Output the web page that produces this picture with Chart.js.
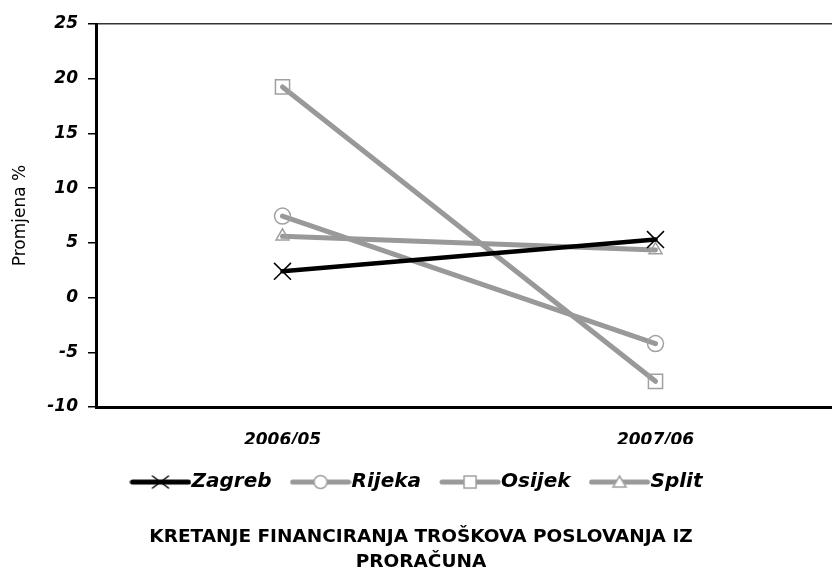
<!DOCTYPE html>
<html>
<head>
<meta charset="utf-8">
<script src="https://cdn.jsdelivr.net/npm/chart.js@4"></script>
<style>
html, body { margin: 0; padding: 0; background: #fff; overflow: hidden; }
#wrap { width: 842px; height: 575px; }
</style>
</head>
<body>
<div id="wrap"><canvas id="c" width="842" height="575"></canvas></div>
<script>
// data
const years = ['2006/05', '2007/06'];
const zagreb = [2.4, 5.3];
const rijeka = [7.45, -4.2];
const osijek = [19.25, -7.65];
const split = [5.6, 4.35];
const yTicks = [-10, -5, 0, 5, 10, 15, 20, 25];

const GREY = '#999999';
const MARK = '#a0a0a0';
const FONT = 'DejaVu Sans';

// legend icon: thick line with the marker in the middle
function icon(color, kind) {
    const c = document.createElement('canvas');
    c.width = 62;
    c.height = 20;
    const g = c.getContext('2d');
    g.strokeStyle = color;
    g.lineWidth = 5;
    g.lineCap = 'round';
    g.beginPath();
    g.moveTo(3, 10);
    g.lineTo(59, 10);
    g.stroke();
    g.lineWidth = 1.5;
    g.strokeStyle = kind === 'x' ? '#000' : MARK;
    g.fillStyle = '#fff';
    g.beginPath();
    if (kind === 'x') {
        g.moveTo(23, 4); g.lineTo(39, 16);
        g.moveTo(23, 16); g.lineTo(39, 4);
        g.stroke();
    } else if (kind === 'o') {
        g.arc(31, 10, 6.5, 0, Math.PI * 2);
        g.fill(); g.stroke();
    } else if (kind === 's') {
        g.rect(25, 4, 12, 12);
        g.fill(); g.stroke();
    } else {
        g.moveTo(31, 4); g.lineTo(37.5, 15); g.lineTo(24.5, 15); g.closePath();
        g.fill(); g.stroke();
    }
    return c;
}

const icons = [icon('#000', 'x'), icon(GREY, 'o'), icon(GREY, 's'), icon(GREY, 't')];

const tickFont = { family: FONT, size: 17, weight: 'bold', style: 'italic' };

new Chart(document.getElementById('c'), {
    type: 'line',
    data: {
        labels: years,
        datasets: [{
            label: 'Zagreb',
            data: zagreb,
            borderColor: '#000',
            borderWidth: 4.5,
            borderCapStyle: 'round',
            pointStyle: 'crossRot',
            pointRadius: 12,
            pointBorderColor: '#000',
            pointBorderWidth: 1.5,
            pointBackgroundColor: 'rgba(0,0,0,0)'
        },
        {
            label: 'Rijeka',
            data: rijeka,
            borderColor: GREY,
            borderWidth: 5,
            borderCapStyle: 'round',
            pointStyle: 'circle',
            pointRadius: 8,
            pointBorderColor: MARK,
            pointBorderWidth: 1.5,
            pointBackgroundColor: 'rgba(0,0,0,0)'
        },
        {
            label: 'Osijek',
            data: osijek,
            borderColor: GREY,
            borderWidth: 5,
            borderCapStyle: 'round',
            pointStyle: 'rect',
            pointRadius: 10,
            pointBorderColor: MARK,
            pointBorderWidth: 1.5,
            pointBackgroundColor: 'rgba(0,0,0,0)'
        },
        {
            label: 'Split',
            data: split,
            borderColor: GREY,
            borderWidth: 5,
            borderCapStyle: 'round',
            pointStyle: 'triangle',
            pointRadius: 7.5,
            pointBorderColor: MARK,
            pointBorderWidth: 1.5,
            pointBackgroundColor: 'rgba(0,0,0,0)'
        }],
    },
    options: {
        responsive: false,
        animation: false,
        layout: {
            autoPadding: false,
            padding: { top: 24, left: 0, right: 0, bottom: 0 }
        },
        plugins: {
            tooltip: { enabled: false },
            legend: {
                position: 'bottom',
                labels: {
                    usePointStyle: true,
                    pointStyleWidth: 42,
                    padding: 28,
                    color: '#000',
                    font: { family: FONT, size: 20, weight: 'bold', style: 'italic' },
                    generateLabels: chart => chart.data.datasets.map((ds, i) => ({
                        text: ds.label,
                        pointStyle: icons[i],
                        fontColor: '#000',
                        lineWidth: 0,
                        datasetIndex: i
                    }))
                }
            },
            title: {
                display: true,
                position: 'bottom',
                text: ['KRETANJE FINANCIRANJA TROŠKOVA POSLOVANJA IZ', 'PRORAČUNA'],
                color: '#000',
                font: { family: FONT, size: 18.5, weight: 'bold', lineHeight: 1.35 },
                padding: { top: 23, bottom: 0 }
            }
        },
        scales: {
            x: {
                offset: true,
                grid: { display: false },
                border: { display: true, color: '#000', width: 3 },
                ticks: { color: '#000', font: tickFont, padding: 15 },
                afterFit: s => { s.height = 37; }
            },
            y: {
                min: -10,
                max: 25,
                afterBuildTicks: s => { s.ticks = yTicks.map(v => ({ value: v })); },
                grid: {
                    color: c => (c.tick && c.tick.value === 25 ? '#333' : 'rgba(0,0,0,0)'),
                    lineWidth: 1.5,
                    tickColor: '#000',
                    tickLength: 8,
                    tickWidth: 1.5
                },
                border: { color: '#000', width: 3 },
                ticks: { color: '#000', font: tickFont, padding: 10 },
                title: {
                    display: true,
                    text: 'Promjena %',
                    color: '#000',
                    font: { family: FONT, size: 17 },
                    padding: { top: 10, bottom: 0 }
                },
                afterFit: s => { s.width = 96; }
            }
        }
    }
});
</script>
</body>
</html>
